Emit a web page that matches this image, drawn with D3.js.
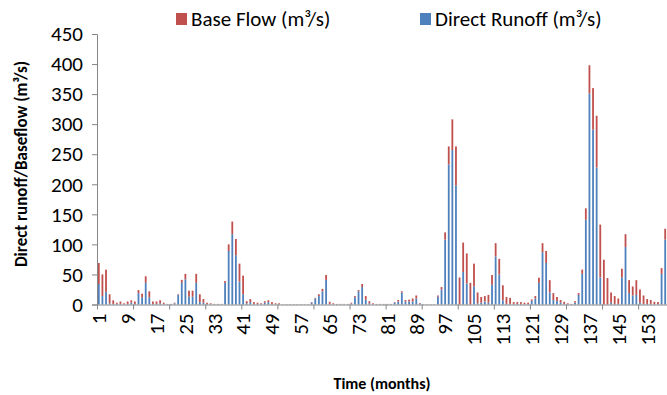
<!DOCTYPE html>
<html>
<head>
<meta charset="utf-8">
<script src="https://cdn.jsdelivr.net/npm/d3@7"></script>
<style>
body { margin: 0; background: #fff; }
svg text { font-family: Carlito, "Liberation Sans Narrow", "DejaVu Sans Condensed", sans-serif; }
.axis path, .axis line { stroke: #868686; }
</style>
</head>
<body>
<svg id="chart" width="667" height="395"></svg>
<script>
// monthly flows, months 1..158
var directRunoff = [
	34, 14, 21, 2, 1, 1, 1, 0.5, 1, 3,
	1, 19, 12, 36, 12, 1, 1, 2, 1, 0.5,
	0.5, 2, 16, 36, 42, 13, 13, 36, 4, 3,
	1, 0.5, 0.5, 0.5, 0.5, 36, 89, 117, 82, 38,
	17, 2, 4, 1, 1, 0.5, 3, 4, 1, 0.5,
	0.5, 0.3, 0.3, 0.3, 0.3, 0.3, 0.3, 0.3, 0.3, 3,
	10, 14, 22, 41, 1, 0.5, 0.5, 0.5, 0.5, 0.5,
	1.5, 12, 22, 29, 8, 2, 0.5, 0.5, 0.5, 0.5,
	0.5, 0.5, 3, 5, 20, 5, 5, 5, 10, 1.5,
	0.3, 0.3, 0.3, 0.3, 13, 25, 108, 233, 257, 198,
	0, 54, 35, 0, 30, 2, 3, 5, 3, 33,
	80, 50, 7, 1, 1, 1, 1, 1, 0.5, 0.5,
	6, 10, 36, 87, 69, 20, 7.5, 6, 3, 1,
	0.5, 0.5, 3, 16, 51, 141, 351, 291, 228, 45,
	0, 0, 3, 1, 1, 45, 95.5, 19, 15, 16,
	3, 1, 1, 1, 0.5, 0.5, 51, 108
];
var baseFlow = [
	35, 36, 37, 15, 6, 2, 4, 1.5, 4, 4,
	4, 5, 6, 11, 10, 4, 4, 5, 2, 0.5,
	0.5, 1, 1, 5, 9, 10, 10, 15, 13, 6,
	2, 1.5, 0.5, 0.5, 0.5, 3, 11, 21, 27, 30,
	31, 3.5, 5, 3, 2, 1.5, 2.5, 3, 3, 1.5,
	1.5, 0.3, 0.3, 0.3, 0.3, 0.3, 0.3, 0.3, 0.3, 1,
	1, 3, 4, 8, 3.5, 1.5, 0.5, 0.5, 0.5, 0.5,
	1.5, 2, 2, 5, 6, 3.5, 1.5, 0.5, 0.5, 0.5,
	0.5, 0.5, 1, 2.5, 2, 2.5, 3, 5, 5, 1,
	0.2, 0.2, 0.2, 0.2, 2, 4, 12, 30, 51, 65,
	45, 49, 50, 36, 38, 18, 9.5, 9, 13, 16,
	22, 26, 25, 11.5, 10, 3, 3, 3, 2.5, 2.5,
	2.5, 4, 8.5, 15, 20, 20.5, 11.5, 6.5, 4.5, 3.5,
	1.5, 0.5, 2.5, 3, 7, 19, 47, 69, 86, 88,
	74.5, 44, 17, 13, 9, 14.5, 21.5, 21.5, 15, 24.5,
	22, 14, 8, 6.5, 4, 3.5, 9.5, 18
];
var months = directRunoff.map(function(d, i){ return i + 1; });
var monthLabels = [1, 9, 17, 25, 33, 41, 49, 57, 65, 73, 81, 89, 97, 105, 113, 121, 129, 137, 145, 153];
var yTicks = [0, 50, 100, 150, 200, 250, 300, 350, 400, 450];
var seriesNames = ['Base Flow', 'Direct Runoff'];

var rows = months.map(function(m, i){
	return {month: m, direct: directRunoff[i], base: baseFlow[i]};
});

var svg = d3.select('#chart');
var plotLeft = 97, plotRight = 667, plotTop = 34, plotBottom = 304.5;

var x = d3.scaleBand().domain(months).range([plotLeft, plotRight]).paddingInner(0.5).paddingOuter(0.25);
var xEdge = d3.scaleLinear().domain([0, months.length]).range([plotLeft, plotRight]);
var y = d3.scaleLinear().domain([0, 450]).range([plotBottom, plotTop]);

var stack = d3.stack().keys(['direct', 'base']);
var layers = stack(rows);
var colors = {direct: '#4f81bd', base: '#c0504d'};

svg.append('g')
	.selectAll('g')
	.data(layers)
	.enter()
	.append('g')
	.attr('fill', function(d){ return colors[d.key]; })
	.selectAll('rect')
	.data(function(d){ return d; })
	.enter()
	.append('rect')
	.attr('x', function(d){ return x(d.data.month); })
	.attr('width', x.bandwidth())
	.attr('y', function(d){ return y(d[1]); })
	.attr('height', function(d){ return y(d[0]) - y(d[1]); });

// y axis
var yAxis = svg.append('g')
	.attr('class', 'axis')
	.attr('transform', 'translate(' + plotLeft + ',0)')
	.call(d3.axisLeft(y).tickValues(yTicks).tickSize(5).tickSizeOuter(5).tickPadding(9));
yAxis.selectAll('text').attr('font-size', '21px').attr('fill', '#000');

// x axis: tick marks every 10 months on category edges
var xAxis = svg.append('g')
	.attr('class', 'axis')
	.attr('transform', 'translate(0,' + plotBottom + ')')
	.call(d3.axisBottom(xEdge).tickValues(d3.range(0, 160, 10)).tickSize(5).tickSizeOuter(0).tickFormat(''));

var xLab = svg.append('g')
	.attr('transform', 'translate(0,' + plotBottom + ')')
	.call(d3.axisBottom(x).tickValues(monthLabels).tickSize(0).tickPadding(0));
xLab.select('.domain').remove();
xLab.selectAll('text')
	.attr('font-size', '21px')
	.attr('fill', '#000')
	.attr('transform', 'rotate(-90)')
	.attr('text-anchor', 'end')
	.attr('dy', '0.35em')
	.attr('x', -9)
	.attr('y', 0);

// titles
svg.append('text')
	.attr('transform', 'translate(27,164) rotate(-90)')
	.attr('text-anchor', 'middle')
	.attr('font-size', '17px')
	.attr('font-weight', 'bold')
	.text('Direct runoff/Baseflow (m³/s)');
svg.append('text')
	.attr('x', 382)
	.attr('y', 389)
	.attr('text-anchor', 'middle')
	.attr('font-size', '16px')
	.attr('font-weight', 'bold')
	.text('Time (months)');

// legend
var legend = svg.append('g')
	.selectAll('g')
	.data(seriesNames)
	.enter()
	.append('g')
	.attr('transform', function(d, i){ return 'translate(' + [176, 420][i] + ',19)'; });
legend.append('rect')
	.attr('y', -6)
	.attr('width', 11)
	.attr('height', 12)
	.attr('fill', function(d, i){ return i === 0 ? colors.base : colors.direct; });
legend.append('text')
	.attr('x', 15)
	.attr('y', 0)
	.attr('dy', '0.35em')
	.attr('font-size', '21px')
	.text(function(d){ return d + ' (m³/s)'; });
</script>
</body>
</html>
